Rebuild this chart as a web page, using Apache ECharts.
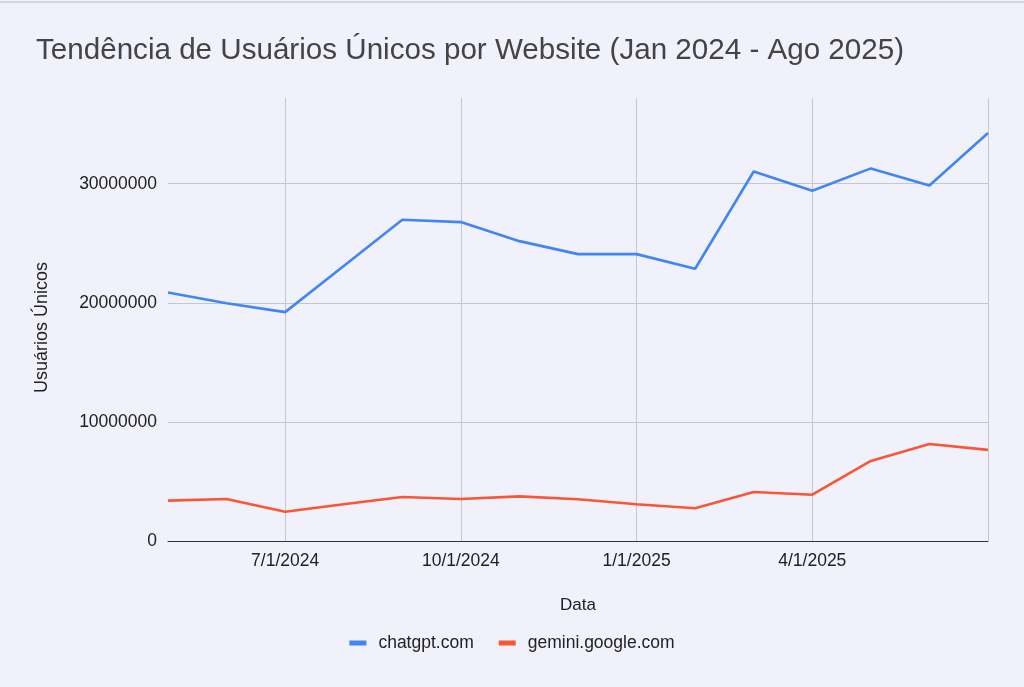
<!DOCTYPE html>
<html>
<head>
<meta charset="utf-8">
<script src="https://cdn.jsdelivr.net/npm/echarts@6/dist/echarts.min.js"></script>
<style>
html,body{margin:0;padding:0;background:#f0f1fb;}
#chart{width:1024px;height:687px;}
</style>
</head>
<body>
<div id="chart"></div>
<script>
const categories = ['5/1/2024','6/1/2024','7/1/2024','8/1/2024','9/1/2024','10/1/2024','11/1/2024','12/1/2024','1/1/2025','2/1/2025','3/1/2025','4/1/2025','5/1/2025','6/1/2025','7/1/2025'];
const chatgpt = [20870000,19970000,19220000,23100000,26970000,26780000,25180000,24090000,24090000,22860000,31030000,29410000,31290000,29860000,34260000];
const gemini = [3390000,3530000,2460000,3080000,3700000,3530000,3750000,3500000,3080000,2750000,4120000,3890000,6720000,8150000,7650000];
const yTicks = [0,10000000,20000000,30000000];
const seriesNames = ['chatgpt.com','gemini.google.com'];

const FONT = '"Liberation Sans", Arial, sans-serif';
const labelIdx = i => i >= 2 && (i - 2) % 3 === 0 && i < categories.length - 1;
const gridIdx = i => i >= 2 && (i - 2) % 3 === 0;

const chart = echarts.init(document.getElementById('chart'));
chart.setOption({
  backgroundColor: '#f0f1fb',
  animation: false,
  title: {
    text: 'Tendência de Usuários Únicos por Website (Jan 2024 - Ago 2025)',
    left: 31, top: 31,
    textStyle: {fontFamily: FONT, fontSize: 29.6, fontWeight: 'normal', color: '#444'}
  },
  legend: {
    bottom: 30, left: 'center',
    itemWidth: 17, itemHeight: 5, itemGap: 25,
    icon: 'rect',
    textStyle: {fontFamily: FONT, fontSize: 17.5, color: '#222', padding: [0, 0, 0, 7]},
    data: seriesNames
  },
  grid: {left: 168, right: 36, top: 98, bottom: 146, containLabel: false},
  xAxis: {
    type: 'category',
    data: categories,
    boundaryGap: false,
    name: 'Data', nameLocation: 'middle', nameGap: 56,
    nameTextStyle: {fontFamily: FONT, fontSize: 17, color: '#222'},
    axisLine: {lineStyle: {color: '#333', width: 1}},
    axisTick: {show: false},
    axisLabel: {interval: (i) => labelIdx(i), fontFamily: FONT, fontSize: 17.5, color: '#222', margin: 11},
    splitLine: {show: true, interval: (i) => gridIdx(i), lineStyle: {color: '#c6c7cc', width: 1}}
  },
  yAxis: {
    type: 'value',
    min: 0, max: 37200000, interval: 10000000,
    name: 'Usuários Únicos', nameLocation: 'middle', nameGap: 117,
    nameTextStyle: {fontFamily: FONT, fontSize: 18, color: '#222', padding: [0, 16, 0, 0]},
    axisLine: {show: false},
    axisTick: {show: false},
    axisLabel: {
      showMaxLabel: false,
      formatter: v => yTicks.indexOf(v) >= 0 ? String(v) : '',
      fontFamily: FONT, fontSize: 17.5, color: '#222', margin: 11
    },
    splitLine: {show: true, showMaxLine: false, lineStyle: {color: '#c6c7cc', width: 1}}
  },
  graphic: [{
    type: 'line', shape: {x1: 0, y1: 2, x2: 1024, y2: 2},
    style: {stroke: '#b9b9bd', lineWidth: 1}
  }],
  series: [
    {name: seriesNames[0], type: 'line', data: chatgpt, showSymbol: false, symbol: 'none',
     lineStyle: {color: '#4285f4', width: 2.6}, itemStyle: {color: '#4285f4'}},
    {name: seriesNames[1], type: 'line', data: gemini, showSymbol: false, symbol: 'none',
     lineStyle: {color: '#fa5535', width: 2.6}, itemStyle: {color: '#fa5535'}}
  ]
});
</script>
</body>
</html>
